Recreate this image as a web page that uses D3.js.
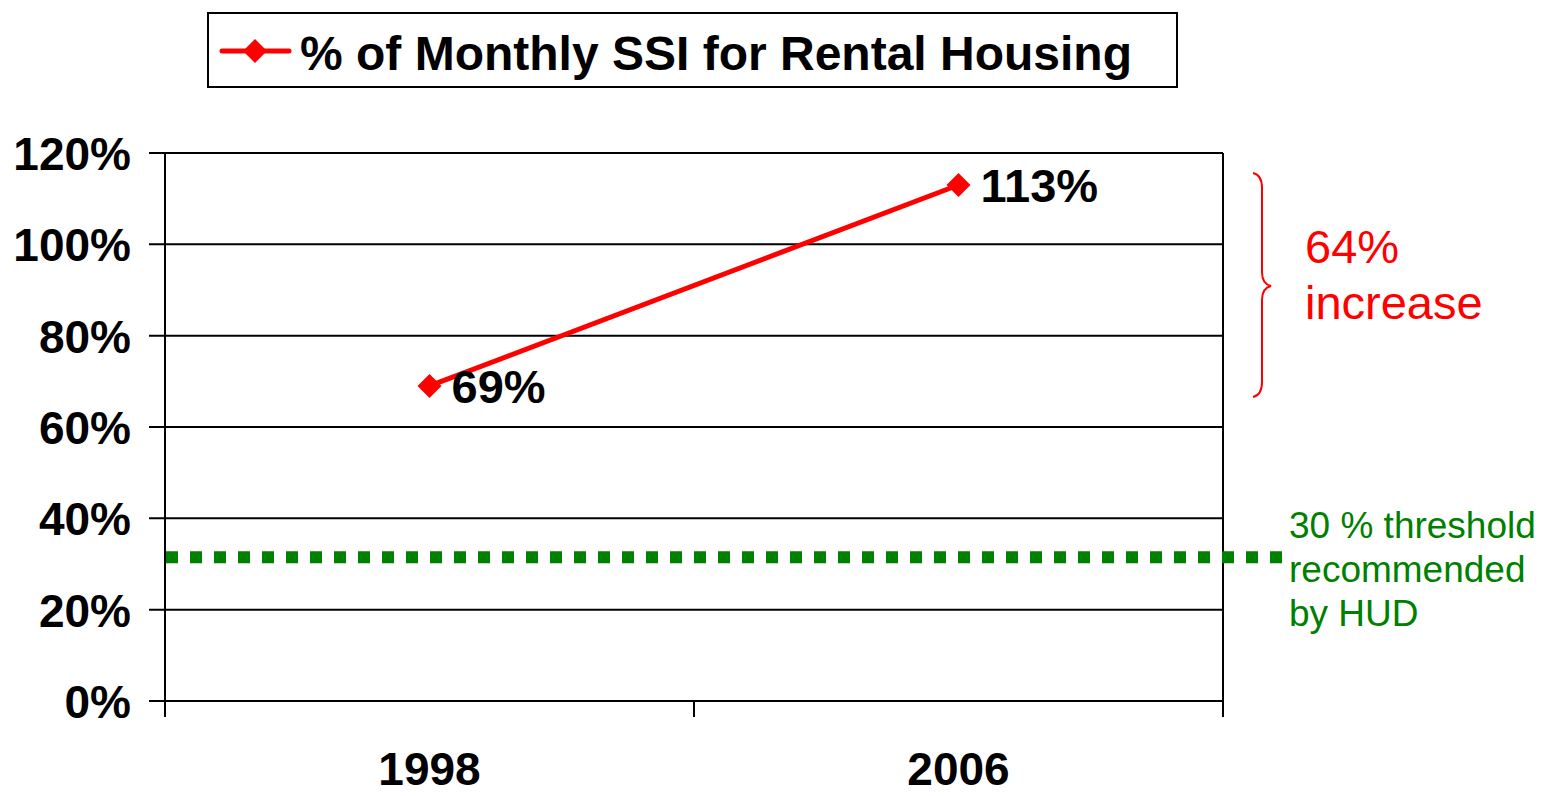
<!DOCTYPE html>
<html>
<head>
<meta charset="utf-8">
<script src="https://cdn.jsdelivr.net/npm/d3@7"></script>
<style>
  body { margin: 0; background: #fff; }
  text { font-family: "Liberation Sans", Arial, sans-serif; }
</style>
</head>
<body>
<svg id="chart" width="1543" height="796"></svg>
<script>
// data
const years = ["1998", "2006"];
const pctRent = [69, 113];
const yTicks = [0, 20, 40, 60, 80, 100, 120];
const threshold = 31.5;
const seriesName = "% of Monthly SSI for Rental Housing";

const svg = d3.select("#chart");
const plotL = 165, plotR = 1223, plotT = 153, plotB = 701;

const x = d3.scaleBand().domain(years).range([plotL, plotR]);
const y = d3.scaleLinear().domain([0, 120]).range([plotB, plotT]);

// gridlines
svg.append("g")
    .selectAll("line")
    .data(yTicks)
    .enter()
    .append("line")
    .attr("x1", plotL - 16)
    .attr("x2", plotR)
    .attr("y1", d => y(d))
    .attr("y2", d => y(d))
    .attr("stroke", "#000")
    .attr("stroke-width", 2);

// y labels
svg.append("g")
    .selectAll("text")
    .data(yTicks)
    .enter()
    .append("text")
    .attr("x", 131)
    .attr("y", d => y(d) + 17)
    .attr("text-anchor", "end")
    .attr("font-size", 46)
    .attr("font-weight", "bold")
    .text(d => d + "%");

// left axis + right border
svg.append("line")
    .attr("x1", plotL).attr("x2", plotL)
    .attr("y1", plotT).attr("y2", plotB + 16)
    .attr("stroke", "#000").attr("stroke-width", 2);
svg.append("line")
    .attr("x1", plotR).attr("x2", plotR)
    .attr("y1", plotT).attr("y2", plotB + 16)
    .attr("stroke", "#000").attr("stroke-width", 2);

// category ticks
svg.append("line")
    .attr("x1", plotL + x.bandwidth()).attr("x2", plotL + x.bandwidth())
    .attr("y1", plotB).attr("y2", plotB + 16)
    .attr("stroke", "#000").attr("stroke-width", 2);

// x labels
svg.append("g")
    .selectAll("text")
    .data(years)
    .enter()
    .append("text")
    .attr("x", d => x(d) + x.bandwidth() / 2)
    .attr("y", 785)
    .attr("text-anchor", "middle")
    .attr("font-size", 46)
    .attr("font-weight", "bold")
    .text(d => d);

// threshold line
svg.append("line")
    .attr("x1", 166).attr("x2", 1282)
    .attr("y1", y(threshold)).attr("y2", y(threshold))
    .attr("stroke", "#008000")
    .attr("stroke-width", 12)
    .attr("stroke-dasharray", "12,12");

// series line
const pts = years.map((d, i) => [x(d) + x.bandwidth() / 2, y(pctRent[i])]);
svg.append("path")
    .attr("d", d3.line()(pts))
    .attr("fill", "none")
    .attr("stroke", "#ff0000")
    .attr("stroke-width", 5);

const diamond = s => `M0,${-s}L${s},0L0,${s}L${-s},0Z`;
svg.append("g")
    .selectAll("path")
    .data(pts)
    .enter()
    .append("path")
    .attr("transform", d => `translate(${d[0]},${d[1]})`)
    .attr("d", diamond(12))
    .attr("fill", "#ff0000");

// data labels
svg.append("g")
    .selectAll("text")
    .data(pts)
    .enter()
    .append("text")
    .attr("x", d => d[0] + 22)
    .attr("y", d => d[1] + 17)
    .attr("font-size", 47)
    .attr("font-weight", "bold")
    .text((d, i) => pctRent[i] + "%");

// brace
svg.append("path")
    .attr("d", "M1253,173 Q1262,175 1262,188 L1262,272 Q1262,284 1271,286 Q1262,288 1262,300 L1262,382 Q1262,395 1253,397")
    .attr("fill", "none")
    .attr("stroke", "#ff0000")
    .attr("stroke-width", 2);

svg.append("text")
    .attr("x", 1305).attr("y", 263)
    .attr("font-size", 47)
    .attr("fill", "#ff0000")
    .text("64%");
svg.append("text")
    .attr("x", 1305).attr("y", 319)
    .attr("font-size", 47)
    .attr("fill", "#ff0000")
    .text("increase");

// threshold note
const note = ["30 % threshold", "recommended", "by HUD"];
svg.append("g")
    .selectAll("text")
    .data(note)
    .enter()
    .append("text")
    .attr("x", 1289)
    .attr("y", (d, i) => 538 + i * 44)
    .attr("font-size", 37)
    .attr("fill", "#008000")
    .text(d => d);

// legend
svg.append("rect")
    .attr("x", 208).attr("y", 13)
    .attr("width", 969).attr("height", 74)
    .attr("fill", "none")
    .attr("stroke", "#000")
    .attr("stroke-width", 2);
svg.append("line")
    .attr("x1", 222).attr("x2", 289)
    .attr("y1", 51).attr("y2", 51)
    .attr("stroke", "#ff0000")
    .attr("stroke-width", 5)
    .attr("stroke-linecap", "round");
svg.append("path")
    .attr("transform", "translate(255,51)")
    .attr("d", diamond(12))
    .attr("fill", "#ff0000");
svg.append("text")
    .attr("x", 300).attr("y", 70)
    .attr("font-size", 48)
    .attr("font-weight", "bold")
    .text(seriesName);
</script>
</body>
</html>
